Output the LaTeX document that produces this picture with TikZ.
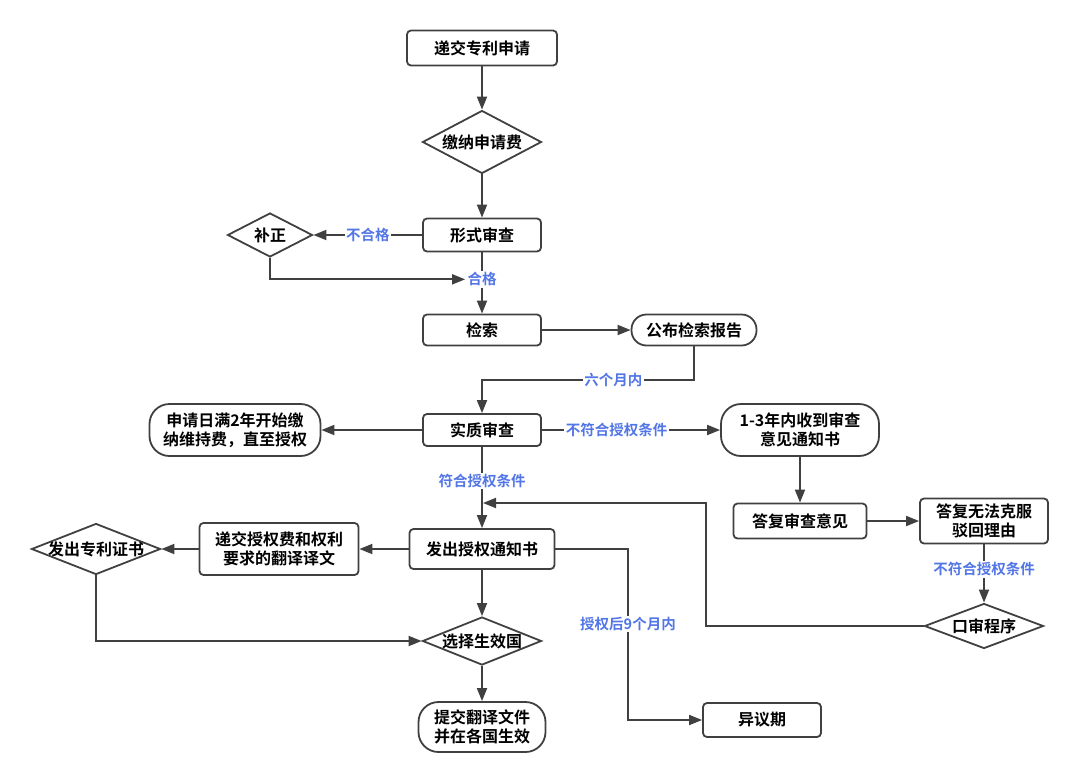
\documentclass[tikz,border=0pt]{standalone}
\usepackage{fontspec}
\setmainfont{Noto Sans CJK SC}[BoldFont=* Bold]
\usetikzlibrary{shapes.geometric,arrows.meta}
\definecolor{linegray}{RGB}{64,64,64}
\definecolor{lblblue}{RGB}{83,118,230}
\newcommand\dtext[1]{\makebox[0pt]{#1}}
\begin{document}
\begin{tikzpicture}[x=1pt,y=-1pt,>={Triangle[length=13pt,width=10pt]},
    every node/.style={font=\fontsize{16}{19}\selectfont\bfseries},
    box/.style={draw=linegray,line width=1.8pt,rounded corners=4pt,inner sep=0pt,align=center},
    pill/.style={box,rounded corners=#1},
    dia/.style={draw=linegray,line width=1.8pt,diamond,inner sep=0pt},
    lbl/.style={fill=white,inner sep=1.5pt,text=lblblue,font=\fontsize{14.5}{17}\selectfont\bfseries},
    line/.style={draw=linegray,line width=1.8pt}]
    \useasboundingbox (0,0) rectangle (1080,782);

    % main column
    \node[box,minimum width=150pt,minimum height=35pt] (apply) at (482,48) {递交专利申请};
    \node[dia,minimum width=119pt,minimum height=63pt] (fee) at (482,142) {\dtext{缴纳申请费}};
    \node[box,minimum width=118pt,minimum height=33pt] (formal) at (482,235) {形式审查};
    \node[dia,minimum width=85pt,minimum height=44pt] (fix) at (270,235) {\dtext{补正}};
    \node[box,minimum width=118pt,minimum height=31pt] (search) at (482,330) {检索};
    \node[pill=15pt,minimum width=125pt,minimum height=31pt] (report) at (694,330) {公布检索报告};
    \node[box,minimum width=118pt,minimum height=32pt] (exam) at (482,430) {实质审查};
    \node[pill=20pt,minimum width=171pt,minimum height=52pt] (keep) at (235,430) {申请日满2年开始缴\\纳维持费，直至授权};
    \node[pill=20pt,minimum width=158pt,minimum height=52pt] (notice) at (800,430) {1-3年内收到审查\\意见通知书};
    \node[box,minimum width=133pt,minimum height=35pt] (reply) at (800,521) {答复审查意见};
    \node[box,minimum width=128pt,minimum height=45pt] (fail) at (984,521) {答复无法克服\\驳回理由};
    \node[dia,minimum width=119pt,minimum height=45pt] (oral) at (984,626) {\dtext{口审程序}};
    \node[box,minimum width=145pt,minimum height=40pt] (grant) at (482,549) {发出授权通知书};
    \node[box,minimum width=159pt,minimum height=52pt] (paid) at (279,549) {递交授权费和权利\\要求的翻译译文};
    \node[dia,minimum width=129pt,minimum height=51pt] (cert) at (96,549) {\dtext{发出专利证书}};
    \node[dia,minimum width=119pt,minimum height=48pt] (choose) at (482,641) {\dtext{选择生效国}};
    \node[pill=20pt,minimum width=127pt,minimum height=50pt] (final) at (482,727) {提交翻译文件\\并在各国生效};
    \node[box,minimum width=118pt,minimum height=34pt] (object) at (762,720) {异议期};
    \coordinate (mid6) at (482,380);
    \coordinate (back) at (706,503);
    \coordinate (c9) at (628,624);

    % draw the connectors
    \draw[line,->] (apply) -- (fee);
    \draw[line,->] (fee) -- (formal);
    \draw[line,->] (formal) -- node[lbl] {不合格} (fix);
    \draw[line,->] (formal) -- node[lbl,pos=0.44] (passlbl) {合格} (search);
    \draw[line,->] (fix.south) |- (passlbl.west);
    \draw[line,->] (search) -- (report);
    \draw[line,->] (report.south) |- node[lbl,pos=0.69] {六个月内} (mid6) -- (exam);
    \draw[line,->] (exam) -- (keep);
    \draw[line,->] (exam) -- node[lbl,pos=0.42] {不符合授权条件} (notice);
    \draw[line,->] (exam) -- node[lbl,pos=0.42] {符合授权条件} (grant);
    \draw[line,->] (notice) -- (reply);
    \draw[line,->] (reply) -- (fail);
    \draw[line,->] (fail) -- node[lbl,pos=0.43] {不符合授权条件} (oral);
    \draw[line,->,shorten >=1pt] (oral.west) -| (back) -- (back -| grant.north);
    \draw[line,->] (grant) -- (paid);
    \draw[line,->] (paid) -- (cert);
    \draw[line,->] (cert.south) |- (choose.west);
    \draw[line,->] (grant) -- (choose);
    \draw[line,->] (choose) -- (final);
    \draw[line,->] (grant.east) -| (c9) node[lbl] {授权后9个月内} |- (object.west);
\end{tikzpicture}
\end{document}
